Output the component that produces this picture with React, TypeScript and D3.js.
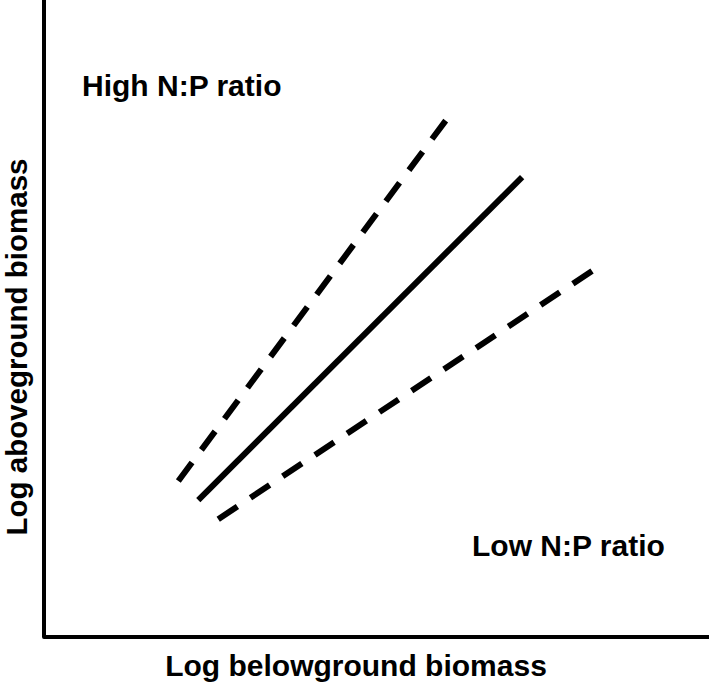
import React from "react";
import * as d3 from "d3";

// Lines as [x, y] pairs on an arbitrary 0–10 log scale (no ticks in the original)
const upperDashed: [number, number][] = [[2.02, 2.45], [6.05, 8.12]];
const solidLine: [number, number][] = [[2.32, 2.15], [7.19, 7.22]];
const lowerDashed: [number, number][] = [[2.62, 1.85], [8.29, 5.78]];

const xLabel = "Log belowground biomass";
const yLabel = "Log aboveground biomass";
const highLabel = "High N:P ratio";
const lowLabel = "Low N:P ratio";

const W = 709;
const H = 686;

export default function App() {
  const x = d3.scaleLinear().domain([0, 10]).range([44, 709]);
  const y = d3.scaleLinear().domain([0, 10]).range([637, 0]);
  const line = d3
    .line<[number, number]>()
    .x((d) => x(d[0]))
    .y((d) => y(d[1]));

  const font = "'Liberation Sans', Arial, sans-serif";

  return (
    <svg
      width={W}
      height={H}
      style={{ position: "absolute", left: 0, top: 0, background: "#fff" }}
    >
      <rect width={W} height={H} fill="#fff" />
      <path
        d={`M${x(0)},${y(10)}V${y(0)}H${x(10)}`}
        fill="none"
        stroke="#000"
        strokeWidth={4}
        strokeLinejoin="round"
      />
      <path
        d={line(upperDashed) || ""}
        fill="none"
        stroke="#000"
        strokeWidth={6}
        strokeDasharray="23 15.7"
      />
      <path d={line(solidLine) || ""} fill="none" stroke="#000" strokeWidth={6} />
      <path
        d={line(lowerDashed) || ""}
        fill="none"
        stroke="#000"
        strokeWidth={6}
        strokeDasharray="23 15.7"
      />
      <text x={82} y={96} fontFamily={font} fontWeight="bold" fontSize={30}>
        {highLabel}
      </text>
      <text x={472} y={556} fontFamily={font} fontWeight="bold" fontSize={30}>
        {lowLabel}
      </text>
      <text
        x={356}
        y={676}
        textAnchor="middle"
        fontFamily={font}
        fontWeight="bold"
        fontSize={30}
      >
        {xLabel}
      </text>
      <text
        transform="translate(27,347) rotate(-90)"
        textAnchor="middle"
        fontFamily={font}
        fontWeight="bold"
        fontSize={29.5}
      >
        {yLabel}
      </text>
    </svg>
  );
}
